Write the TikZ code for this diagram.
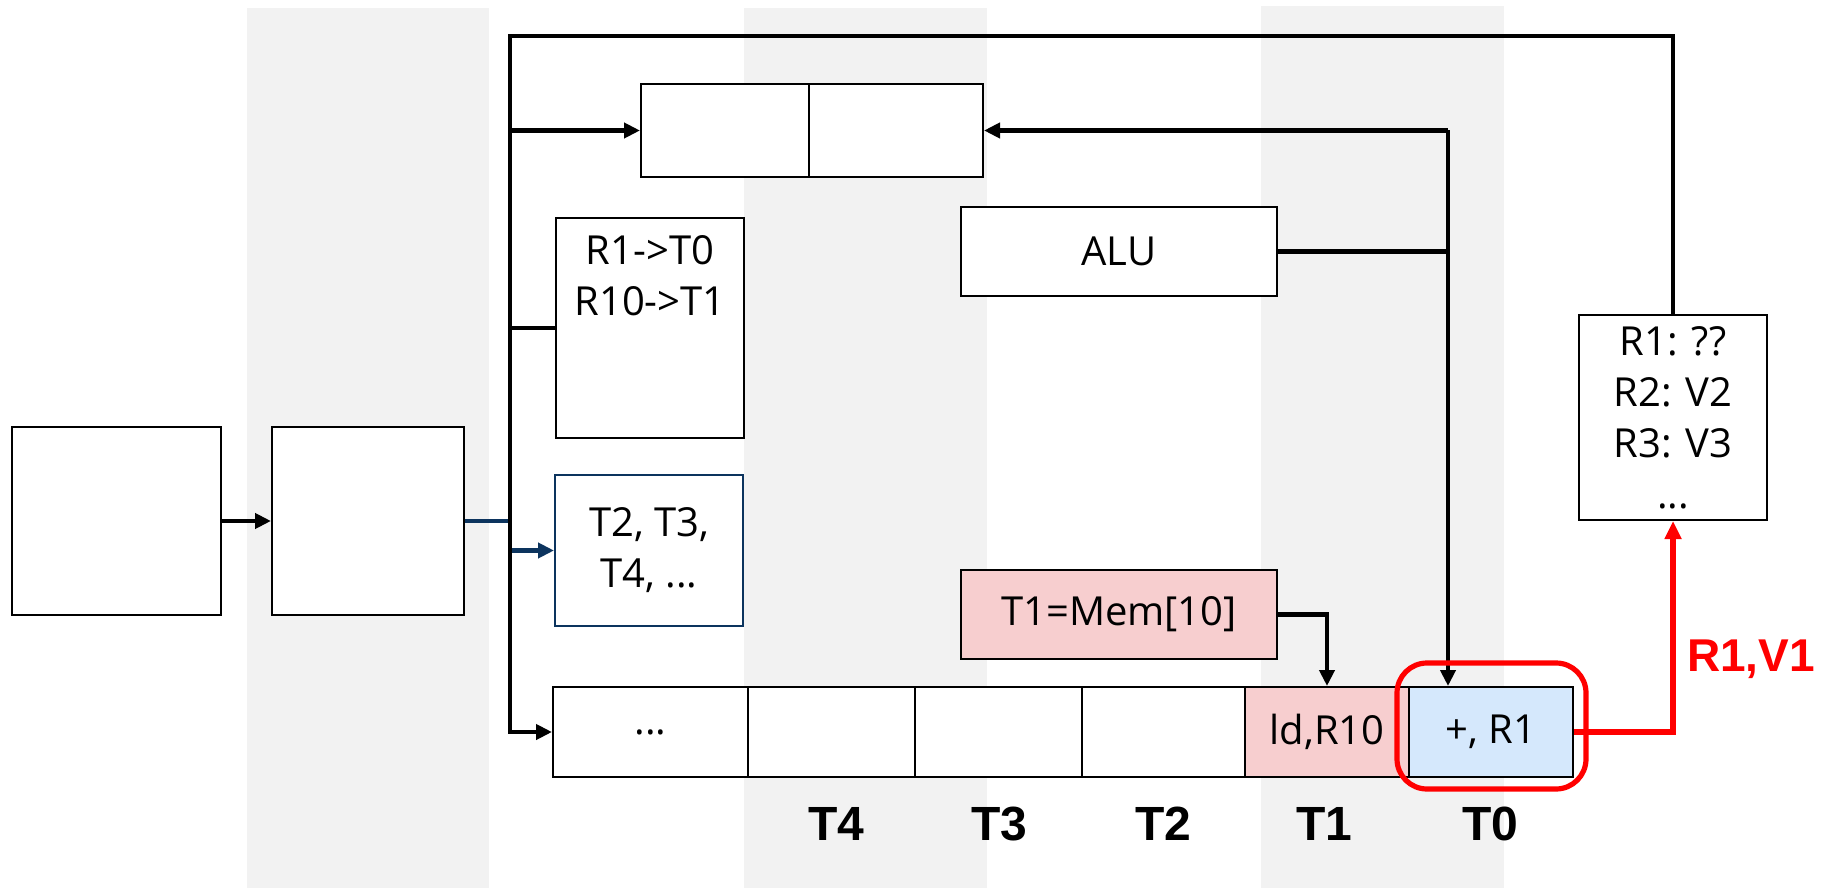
\documentclass[tikz,border=0pt]{standalone}
\usepackage{fontspec}
\setmainfont{Open Sans}
\newfontfamily\arialfont{Liberation Sans}
\usetikzlibrary{arrows.meta}
\definecolor{band}{HTML}{F2F2F2}
\definecolor{navy}{RGB}{12,52,94}
\definecolor{pinkfill}{RGB}{247,206,207}
\definecolor{bluefill}{RGB}{213,232,252}
\definecolor{hired}{RGB}{255,0,0}
\tikzset{
  box/.style={draw=black,line width=1pt,fill=white,inner sep=0pt,
    font=\fontsize{20}{25.5}\selectfont,align=center},
  txt/.style={inner sep=0pt,font=\fontsize{20}{25.5}\selectfont,align=center},
  conn/.style={line width=2.4pt,draw=black},
  arr/.style={-{Triangle[length=8pt,width=7.5pt]}},
  lab/.style={inner sep=0pt,font=\arialfont\bfseries\fontsize{24}{28}\selectfont},
  cell/.style={box,minimum height=45pt}
}
\begin{document}
\begin{tikzpicture}[x=0.5pt,y=-0.5pt]
\useasboundingbox (0,0) rectangle (1821,888);
% grey bands
\fill[band] (247,8) rectangle (489,888);
\fill[band] (744,8) rectangle (987,888);
\fill[band] (1261,6) rectangle (1504,888);

% boxes
\node[box,minimum width=104.5pt,minimum height=94pt] (A) at (116.5,521) {};
\node[box,minimum width=96pt,minimum height=94pt] (B) at (368,521) {};
\node[box,minimum width=84pt,minimum height=46.5pt] (sb1) at (725,130.5) {};
\node[box,minimum width=87pt,minimum height=46.5pt] (sb2) at (896,130.5) {};
\node[box,minimum width=94pt,minimum height=110pt] (map) at (650,328) {};
\node[txt] (mapt) at (650,276) {R1->T0\\R10->T1};
\node[box,draw=navy,minimum width=94pt,minimum height=75.5pt] (free) at (649,550.5) {T2, T3,\\T4, ...};
\node[box,minimum width=158pt,minimum height=44.5pt] (alu) at (1119,251.5) {ALU};
\node[box,fill=pinkfill,minimum width=158pt,minimum height=44.5pt] (mem) at (1119,614.5) {T1=Mem[10]};
\node[box,minimum width=94pt,minimum height=102.5pt] (rf) at (1673,417.5) {R1: ??\\R2: V2\\R3: V3\\...};

% queue
\node[cell,minimum width=97.5pt] (q5) at (650.5,732) {...};
\node[cell,minimum width=83.5pt] (q4) at (831.5,732) {};
\node[cell,minimum width=83.5pt] (q3) at (998.5,732) {};
\node[cell,minimum width=81.5pt] (q2) at (1163.5,732) {};
\node[cell,fill=pinkfill,minimum width=82pt] (q1) at (1327,732) {ld,R10};
\node[cell,fill=bluefill,minimum width=82pt] (q0) at (1491,732) {+, R1};

% labels
\node[lab] (l4) at (836,824) {T4};
\node[lab] (l3) at (999,824) {T3};
\node[lab] (l2) at (1163,824) {T2};
\node[lab] (l1) at (1324,824) {T1};
\node[lab] (l0) at (1490,824) {T0};
\node[lab,text=hired,font=\arialfont\bfseries\fontsize{23}{27}\selectfont] (rv) at (1751,659) {R1,V1};

% coordinates
\coordinate (bustop) at (510,36);
\coordinate (aluv) at (1448,130.5);

% connectors
\draw[conn,arr] (A.east) -- (B.west);
\draw[conn,draw=navy,-{Triangle[length=8pt,width=7.5pt,fill=navy]}] (B.east) -- (bustop |- B.east) |- (free.west);
\draw[conn,arr] (rf.north) |- (bustop) |- (q5.west);
\draw[conn,arr] (bustop |- sb1.west) -- (sb1.west);
\draw[conn] (bustop |- map.west) -- (map.west);
\draw[conn,arr] (aluv) -- (sb2.east);
\draw[conn,arr] (aluv) -- (aluv |- q0.north);
\draw[conn] (alu.east) -- (alu.east -| aluv);
\draw[conn,arr] (mem.east) -| (q1.north);
\draw[conn,draw=hired,line width=2.8pt,-{Triangle[length=9pt,width=8pt]}] (q0.east) -| (rf.south);

% highlight
\draw[hired,line width=2.6pt,rounded corners=15] (1397,663) rectangle (1586,789);
\end{tikzpicture}
\end{document}
